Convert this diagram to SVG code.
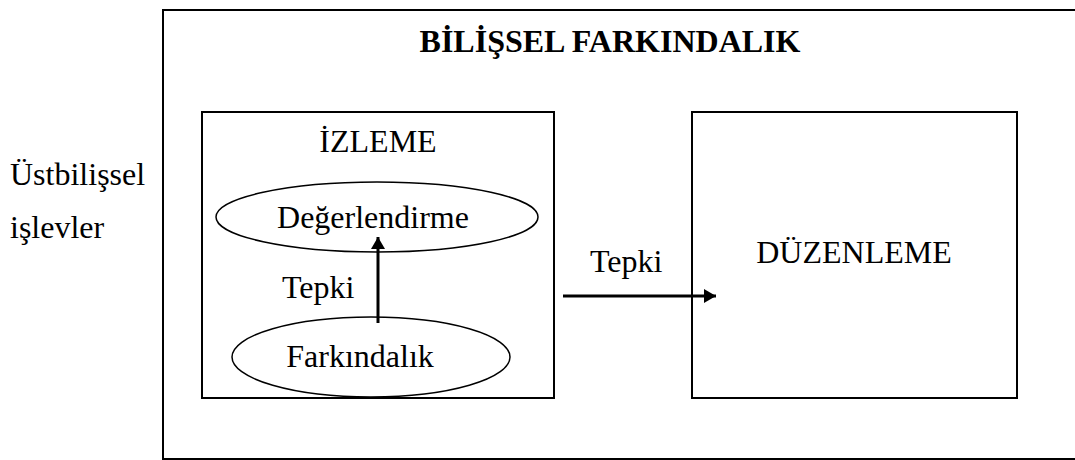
<svg xmlns="http://www.w3.org/2000/svg" width="1075" height="460" viewBox="0 0 1075 460">
  <style>
    .box { fill: none; stroke: #000; stroke-width: 2; }
    .oval { fill: #fff; stroke: #000; stroke-width: 1.5; }
    .lbl { font-family: "Liberation Serif", "Times New Roman", serif; font-size: 32px; fill: #000; }
    .title { font-family: "Liberation Serif", "Times New Roman", serif; font-size: 32px; font-weight: bold; fill: #000; }
    .link { stroke: #000; stroke-width: 3; fill: none; }
  </style>
  <defs>
    <marker id="head" viewBox="0 0 12 14" refX="12" refY="7" markerWidth="12" markerHeight="14" markerUnits="userSpaceOnUse" orient="auto">
      <path d="M0,0 L12,7 L0,14 Z" fill="#000"/>
    </marker>
  </defs>
  <rect width="1075" height="460" fill="#fff"/>

  <!-- side label -->
  <g id="side-label">
    <text class="lbl" x="10" y="185">Üstbilişsel</text>
    <text class="lbl" x="10" y="238">işlevler</text>
  </g>

  <!-- outer frame -->
  <g id="bilissel-farkindalik">
    <rect class="box" x="163" y="10" width="930" height="449"/>
    <text class="title" x="610" y="52" text-anchor="middle">BİLİŞSEL FARKINDALIK</text>
  </g>

  <!-- monitoring box -->
  <g id="izleme">
    <rect class="box" x="202" y="112" width="352" height="286"/>
    <text class="lbl" x="378" y="152" text-anchor="middle">İZLEME</text>
  </g>

  <g id="degerlendirme">
    <ellipse class="oval" cx="377" cy="217" rx="161" ry="35"/>
    <text class="lbl" x="373" y="228" text-anchor="middle">Değerlendirme</text>
  </g>

  <g id="farkindalik">
    <ellipse class="oval" cx="371" cy="357" rx="139" ry="40"/>
    <text class="lbl" x="360" y="367" text-anchor="middle">Farkındalık</text>
  </g>

  <!-- regulation box -->
  <g id="duzenleme">
    <rect class="box" x="692" y="112" width="325" height="286"/>
    <text class="lbl" x="854" y="263" text-anchor="middle">DÜZENLEME</text>
  </g>

  <!-- connectors -->
  <g id="connectors">
    <line class="link" x1="378" y1="323" x2="378" y2="237" marker-end="url(#head)"/>
    <text class="lbl" x="282" y="298">Tepki</text>
    <line class="link" x1="563" y1="296" x2="716" y2="296" marker-end="url(#head)"/>
    <text class="lbl" x="590" y="272">Tepki</text>
  </g>
</svg>
